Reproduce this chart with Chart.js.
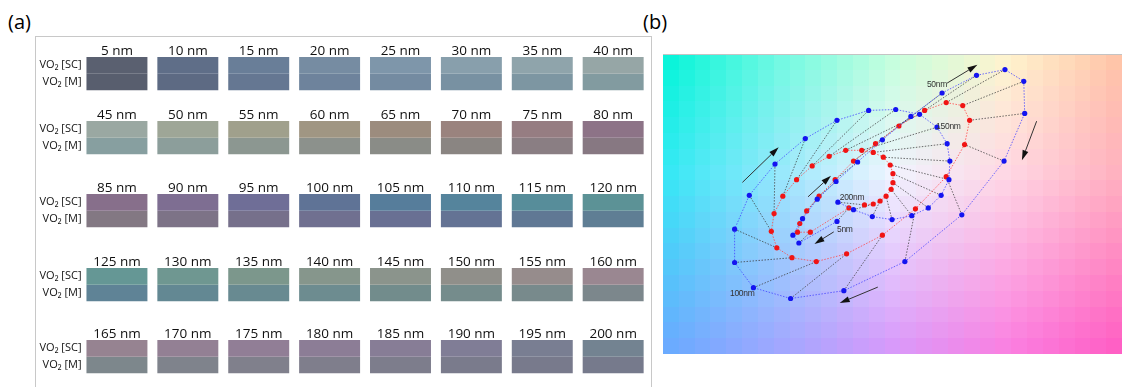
<!DOCTYPE html>
<html><head><meta charset="utf-8">
<script src="https://cdn.jsdelivr.net/npm/chart.js@4.4.1/dist/chart.umd.min.js"></script>
<style>
html,body{margin:0;padding:0;background:#fff;width:1126px;height:387px;overflow:hidden;}
#wrap{position:relative;width:1126px;height:387px;}
.plab{position:absolute;font-family:'Open Sans',sans-serif;font-size:20px;line-height:20px;color:#000;}
#boxA{position:absolute;left:35px;top:36px;width:617px;height:360px;border:1px solid #c8c8c8;border-bottom:none;box-sizing:border-box;}
canvas{position:absolute;}
</style></head>
<body><div id="wrap">
<div class="plab" style="left:8px;top:12px">(a)</div>
<div class="plab" style="left:643px;top:12px">(b)</div>
<div id="boxA"></div>
</div>
<script>
// ---------- data ----------
const thicknessNm = [5,10,15,20,25,30,35,40,45,50,55,60,65,70,75,80,85,90,95,100,
  105,110,115,120,125,130,135,140,145,150,155,160,165,170,175,180,185,190,195,200];
const stateLabels = ['VO\u2082 [SC]', 'VO\u2082 [M]'];
const scSwatch = ['#5a6070','#5f6e88','#697e98','#768ca2','#7e96aa','#889fac','#8fa4ab','#96a6a6',
  '#9aa8a2','#9ea697','#a0a08c','#a09683','#9c8c7e','#9a837e','#967d82','#8d7387',
  '#876f8b','#7e6e92','#6f6e97','#5f7396','#567d9b','#55849c','#578d9a','#5c9296',
  '#659795','#6f9791','#7c978c','#86968c','#8b948c','#908f8a','#968c8c','#9a8791',
  '#968391','#938094','#917e96','#8c7d96','#877d96','#807d96','#797e92','#738391'];
const mSwatch = ['#585e6e','#5d6a83','#657792','#6e839c','#748ba1','#7891a2','#7d96a2','#829ba0',
  '#879fa0','#8c9e9b','#8c9791','#8c918c','#8a8c87','#8a8582','#8a7e83','#877882',
  '#837883','#7d7387','#76708b','#707090','#697093','#647394','#607894','#5f7e94',
  '#5f8396','#638893','#688a91','#6d8c90','#728c8c','#758c8c','#788a8c','#7c878c',
  '#7d878c','#7f838c','#80808c','#7f7e8c','#7d7d8c','#7a7b8c','#787a8c','#767a8c'];
// colour-space coordinates (arbitrary units 0-100) for SC and M films
const scX = [37.9,29.6,28.3,30.4,33.6,37.7,42.4,47.8,54.0,60.8,68.3,74.5,78.6,78.8,74.3,65.1,52.7,39.4,27.8,19.7,
  15.6,15.6,18.8,24.4,31.0,37.9,44.8,50.7,55.9,59.7,61.9,62.5,62.3,60.6,57.8,54.2,49.9,45.6,41.5,38.1];
const scY = [44.2,37.0,39.6,45.1,51.6,57.5,64.0,71.4,79.2,87.0,92.9,94.8,90.9,80.2,64.3,46.4,30.8,21.1,18.5,22.1,
  30.5,41.6,52.9,63.3,71.8,77.9,81.2,81.5,79.9,75.6,70.1,64.3,58.1,52.9,48.7,46.1,44.8,45.8,48.1,50.6];
const mX = [40.5,32.1,29.3,29.8,31.3,34.0,37.5,41.5,46.3,51.4,57.0,61.7,65.3,66.8,65.7,61.7,55.0,47.8,40.0,33.4,
  28.1,24.8,23.6,24.2,26.1,29.1,32.5,36.2,39.8,43.3,45.8,48.0,49.5,50.1,50.1,49.7,48.6,47.3,45.8,43.9];
const mY = [48.7,40.6,40.6,43.5,47.7,52.6,58.1,64.3,70.1,76.0,81.2,83.8,82.8,77.9,69.8,59.1,48.4,39.6,33.4,30.8,
  32.1,35.4,40.9,46.8,52.6,58.1,62.7,65.9,67.9,67.9,67.2,65.6,63.0,60.1,57.1,54.9,52.6,51.0,50.0,49.7];
const markText = ['5nm','50nm','100nm','150nm','200nm'];
const markX = [37.9,57.5,14.6,59.5,38.5];
const markY = [41.6,89.7,20.1,75.8,52.2];
const arrowTailX = [17.3,31.6,61.9,81.4,37.2,46.8];
const arrowTailY = [57.2,52.4,90.3,77.6,40.7,22.3];
const arrowHeadX = [25.2,36.6,68.5,78.2,33.0,38.5];
const arrowHeadY = [68.9,59.4,96.4,64.6,36.7,17.0];

// ---------- layout ----------
const wrap = document.getElementById('wrap');
const rowTops = [57,121,194,268,340];
const SANS = "'Open Sans','DejaVu Sans',sans-serif";

// ---------- panel (a): one stacked bar chart per row ----------
for (let r = 0; r < 5; r++) {
  const cv = document.createElement('canvas');
  cv.width = 614; cv.height = 62;
  cv.style.left = '36px'; cv.style.top = (rowTops[r] - 22) + 'px';
  wrap.appendChild(cv);
  const idx = [0,1,2,3,4,5,6,7].map(k => r * 8 + k);
  new Chart(cv, {
    type: 'bar',
    data: {
      labels: idx.map(i => thicknessNm[i] + ' nm'),
      datasets: [
        {label: 'SC', data: idx.map(() => 1), backgroundColor: idx.map(i => scSwatch[i]), stack: 's'},
        {label: 'M', data: idx.map(() => 1), backgroundColor: idx.map(i => mSwatch[i]), stack: 's'}
      ]
    },
    options: {
      responsive: false, animation: false, devicePixelRatio: 1,
      layout: {padding: {left: 0, right: 1.4, top: 0, bottom: 0}},
      plugins: {legend: {display: false}, tooltip: {enabled: false}},
      datasets: {bar: {barPercentage: 0.86, categoryPercentage: 1, borderWidth: 0}},
      scales: {
        x: {position: 'top', stacked: true, grid: {display: false, drawTicks: false}, border: {display: false},
            ticks: {padding: -1, color: '#111', autoSkip: false, maxRotation: 0,
                    font: {family: SANS, size: 13.5, lineHeight: 1}},
            afterFit(s) { s.height = 22; }},
        y: {stacked: true, reverse: true, min: 0, max: 2, grid: {display: false, drawTicks: false}, border: {display: false},
            afterBuildTicks(s) { s.ticks = [{value: 0.5}, {value: 1.5}]; },
            ticks: {padding: 0, color: '#111', font: {family: SANS, size: 11},
                    callback: (v, i) => stateLabels[i]},
            afterFit(s) { s.width = 45.5; }}
      }
    }
  });
}

// ---------- panel (b): colour-space scatter ----------
const bgXs = [0,25,50,75,100];
const bgYs = [100,60,0];
const bgRGB = [
  [[0,245,215],[110,250,225],[195,255,220],[255,245,205],[255,195,165]],
  [[50,232,245],[150,232,252],[240,244,255],[255,215,228],[255,175,190]],
  [[105,168,255],[160,165,255],[215,150,250],[250,125,225],[255,90,195]]
];
function lerp(a, b, t) { return a + (b - a) * t; }
function bgAt(x, y) {
  let i = 0; while (i < bgXs.length - 2 && x > bgXs[i + 1]) i++;
  let j = 0; while (j < bgYs.length - 2 && y < bgYs[j + 1]) j++;
  const tx = (x - bgXs[i]) / (bgXs[i + 1] - bgXs[i]);
  const ty = (y - bgYs[j]) / (bgYs[j + 1] - bgYs[j]);
  const c = [0,1,2].map(k => lerp(lerp(bgRGB[j][i][k], bgRGB[j][i + 1][k], tx),
                                  lerp(bgRGB[j + 1][i][k], bgRGB[j + 1][i + 1][k], tx), ty));
  return 'rgb(' + c.map(Math.round).join(',') + ')';
}
const bgPlugin = {
  id: 'bgCells',
  beforeDatasetsDraw(chart) {
    const {ctx, scales: {x, y}} = chart;
    const NC = 29, NR = 19;
    ctx.save();
    for (let cx = 0; cx < NC; cx++) for (let cy = 0; cy < NR; cy++) {
      const x0 = cx * 100 / NC, x1 = (cx + 1) * 100 / NC, y0 = cy * 100 / NR, y1 = (cy + 1) * 100 / NR;
      const px0 = Math.round(x.getPixelForValue(x0)), px1 = Math.round(x.getPixelForValue(x1));
      const py0 = Math.round(y.getPixelForValue(y1)), py1 = Math.round(y.getPixelForValue(y0));
      ctx.fillStyle = bgAt((x0 + x1) / 2, (y0 + y1) / 2);
      ctx.fillRect(px0, py0, px1 - px0, py1 - py0);
    }
    const a = chart.chartArea;
    ctx.strokeStyle = '#c4c4c4'; ctx.lineWidth = 1;
    ctx.beginPath(); ctx.moveTo(a.left, a.top + 0.5); ctx.lineTo(a.right, a.top + 0.5); ctx.stroke();
    ctx.restore();
  }
};
const annoPlugin = {
  id: 'anno',
  afterDatasetsDraw(chart) {
    const {ctx, scales: {x, y}} = chart;
    ctx.save();
    for (let k = 0; k < arrowTailX.length; k++) {
      const x0 = x.getPixelForValue(arrowTailX[k]), y0 = y.getPixelForValue(arrowTailY[k]);
      const x1 = x.getPixelForValue(arrowHeadX[k]), y1 = y.getPixelForValue(arrowHeadY[k]);
      const ang = Math.atan2(y1 - y0, x1 - x0), L = 10, W = 3;
      const bx = x1 - L * Math.cos(ang), by = y1 - L * Math.sin(ang);
      ctx.strokeStyle = '#333'; ctx.lineWidth = 1;
      ctx.beginPath(); ctx.moveTo(x0, y0); ctx.lineTo(bx, by); ctx.stroke();
      ctx.fillStyle = '#111';
      ctx.beginPath(); ctx.moveTo(x1, y1);
      ctx.lineTo(bx + W * Math.sin(ang), by - W * Math.cos(ang));
      ctx.lineTo(bx - W * Math.sin(ang), by + W * Math.cos(ang));
      ctx.closePath(); ctx.fill();
    }
    ctx.font = "8.5px 'Liberation Sans', Arial, sans-serif";
    try { ctx.letterSpacing = '-0.3px'; } catch (e) {}
    ctx.fillStyle = '#333'; ctx.textAlign = 'left'; ctx.textBaseline = 'middle';
    for (let k = 0; k < markText.length; k++) {
      ctx.fillText(markText[k], x.getPixelForValue(markX[k]), y.getPixelForValue(markY[k]));
    }
    ctx.restore();
  }
};
const pairData = [];
for (let i = 0; i < thicknessNm.length; i++) {
  pairData.push({x: scX[i], y: scY[i]}, {x: mX[i], y: mY[i]}, {x: null, y: null});
}
const cvB = document.createElement('canvas');
cvB.width = 467; cvB.height = 308;
cvB.style.left = '659px'; cvB.style.top = '50px';
wrap.appendChild(cvB);
new Chart(cvB, {
  type: 'scatter',
  data: {datasets: [
    {label: 'pairs', data: pairData, showLine: true, spanGaps: false, borderColor: 'rgba(60,60,60,0.75)',
     borderWidth: 1, borderDash: [1.5, 1.5], pointRadius: 0, order: 3},
    {label: 'VO2 [M]', data: thicknessNm.map((t, i) => ({x: mX[i], y: mY[i]})), showLine: true,
     borderColor: 'rgba(255,70,70,0.8)', borderWidth: 1, borderDash: [1.5, 1.5],
     pointRadius: 2.6, pointBackgroundColor: '#f01414', pointBorderWidth: 0, order: 2},
    {label: 'VO2 [SC]', data: thicknessNm.map((t, i) => ({x: scX[i], y: scY[i]})), showLine: true,
     borderColor: 'rgba(70,70,255,0.8)', borderWidth: 1, borderDash: [1.5, 1.5],
     pointRadius: 2.6, pointBackgroundColor: '#1414f0', pointBorderWidth: 0, order: 1}
  ]},
  options: {
    responsive: false, animation: false, devicePixelRatio: 1,
    layout: {padding: 0},
    elements: {line: {tension: 0}},
    plugins: {legend: {display: false}, tooltip: {enabled: false}},
    scales: {x: {type: 'linear', min: 0, max: 100, display: false},
             y: {type: 'linear', min: 0, max: 100, display: false}}
  },
  plugins: [bgPlugin, annoPlugin]
});
</script>
</body></html>
